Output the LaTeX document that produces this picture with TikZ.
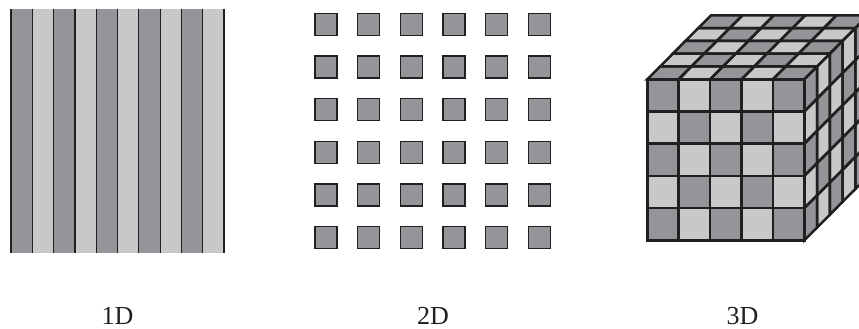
\documentclass[tikz,border=0pt]{standalone}
\usepackage{fontspec}
\setmainfont{Liberation Serif}
\definecolor{dk}{HTML}{939598}
\definecolor{lt}{HTML}{C7C8CA}
\definecolor{ln}{HTML}{231F20}
\begin{document}
\begin{tikzpicture}[x=1pt,y=-1pt,
  lbl/.style={anchor=base, font=\fontsize{26}{30}\selectfont, text=ln, inner sep=0pt},
  stripeline/.style={ln, line width=1.2pt},
  sq/.style={fill=dk, draw=ln, line width=1.2pt},
  cubeline/.style={draw=ln, line width=2.5pt}]
\useasboundingbox (0,0) rectangle (859,329);
% ---- 1D
\foreach \ii in {0,...,9} {
  \ifodd\ii \def\col{lt}\else\def\col{dk}\fi
  \fill[\col] ({11+21.3*\ii},9) rectangle ++(21.3,244.3);
}
\foreach \ii in {0,...,10} \draw[stripeline] ({11+21.3*\ii},9) -- ++(0,244.3);
% ---- 2D
\foreach \ii in {0,...,5} \foreach \jj in {0,...,5}
  \draw[sq] ({315+42.67*\jj},{13.3+42.67*\ii}) rectangle ++(22,22);
% ---- 3D
\begin{scope}
\clip (0,0) rectangle (859,329);
\def\X{647.3}\def\Y{79.3}\def\sx{31.4}\def\sy{32.2}\def\dx{12.75}\def\dz{12.8}
% fills
\foreach \ii in {0,...,4} \foreach \jj in {0,...,4} {
  \pgfmathtruncatemacro\pp{mod(\ii+\jj,2)}
  \ifnum\pp=0 \def\col{dk}\else\def\col{lt}\fi
  \fill[\col] ({\X+\jj*\sx},{\Y+\ii*\sy}) rectangle ++(\sx,\sy);
  \fill[\col] ({\X+\ii*\sx+\jj*\dx},{\Y-\jj*\dz}) -- ++(\sx,0) -- ++(\dx,-\dz) -- ++(-\sx,0) -- cycle;
  \fill[\col] ({\X+5*\sx+\jj*\dx},{\Y+\ii*\sy-\jj*\dz}) -- ++(\dx,-\dz) -- ++(0,\sy) -- ++(-\dx,\dz) -- cycle;
}
% lines
\foreach \ii in {0,...,4} \foreach \jj in {0,...,4} {
  \draw[cubeline] ({\X+\ii*\sx+\jj*\dx},{\Y-\jj*\dz}) -- ++(\sx,0) -- ++(\dx,-\dz) -- ++(-\sx,0) -- cycle;
  \draw[cubeline] ({\X+5*\sx+\jj*\dx},{\Y+\ii*\sy-\jj*\dz}) -- ++(\dx,-\dz) -- ++(0,\sy) -- ++(-\dx,\dz) -- cycle;
}
\foreach \ii in {0,...,4} \foreach \jj in {0,...,4}
  \draw[cubeline] ({\X+\jj*\sx},{\Y+\ii*\sy}) rectangle ++(\sx,\sy);
\end{scope}
% ---- labels
\node[lbl] (l1) at (117.5,324) {1D};
\node[lbl] (l2) at (433,324) {2D};
\node[lbl] (l3) at (742.5,324) {3D};
\end{tikzpicture}
\end{document}
